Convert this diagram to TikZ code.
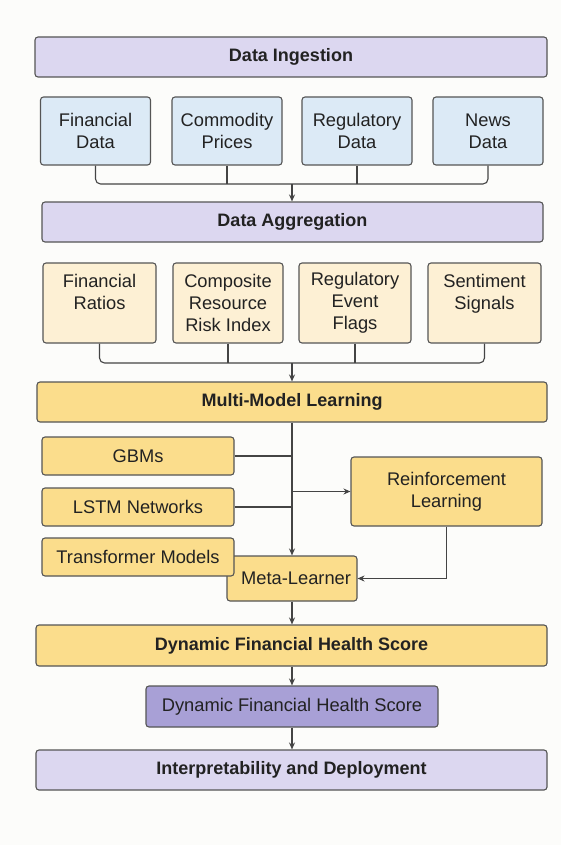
\documentclass[tikz,border=0pt]{standalone}
\usepackage{fontspec}
\setmainfont{Liberation Sans}
\usepackage{tikz}
\usetikzlibrary{arrows.meta}

\definecolor{lav}{HTML}{DCD7F0}
\definecolor{sky}{HTML}{DCEAF6}
\definecolor{cream}{HTML}{FDF0D4}
\definecolor{gold}{HTML}{FBDD8C}
\definecolor{violetbox}{HTML}{A8A0D6}
\definecolor{edge}{HTML}{555555}
\definecolor{ink}{HTML}{222222}
\definecolor{paper}{HTML}{FCFCFA}

\begin{document}
\begin{tikzpicture}
[x=1pt, y=-1pt,
base/.style={draw=edge, line width=1.1pt, rounded corners=3pt, inner sep=0pt, align=center, text=ink, font=\fontsize{18.3}{22}\selectfont},
stage/.style={base, fill=lav, minimum height=40pt, font=\fontsize{18}{22}\selectfont\bfseries},
source/.style={base, fill=sky, minimum width=110pt, minimum height=68pt},
feature/.style={base, fill=cream, minimum width=113pt, minimum height=80pt},
learner/.style={base, fill=gold, minimum width=192pt, minimum height=38pt},
link/.style={edge!80!black, line width=1.1pt},
flow/.style={link, -{Stealth[length=7pt, width=6pt]}}]
\fill[paper] (0,0) rectangle (561,845);
\useasboundingbox (0,0) rectangle (561,845);
\node[stage, minimum width=512pt] (ingest) at (291,57) {Data Ingestion};
\node[source] (fin) at (95.5,131) {Financial\\Data};
\node[source] (comm) at (227,131) {Commodity\\Prices};
\node[source] (reg) at (357,131) {Regulatory\\Data};
\node[source] (news) at (488,131) {News\\Data};
\coordinate (srcjoin) at (292,184);
\draw[link, rounded corners=5pt] (fin.south) |- (srcjoin) -| (news.south);
\draw[link] (comm.south) -- (comm.south |- srcjoin);
\draw[link] (reg.south) -- (reg.south |- srcjoin);
\node[stage, minimum width=501pt] (aggreg) at (292.5,222) {Data Aggregation};
\draw[flow] (srcjoin) -- (srcjoin |- aggreg.north);
\node[feature] (ratios) at (99.5,303) {Financial\\Ratios\\\mbox{}};
\node[feature, minimum width=110pt] (crri) at (228,303) {Composite\\Resource\\Risk Index};
\node[feature, minimum width=112pt] (flags) at (355,303) {Regulatory\\Event\\Flags};
\node[feature] (senti) at (484.5,303) {Sentiment\\Signals\\\mbox{}};
\coordinate (featjoin) at (292,363);
\draw[link, rounded corners=5pt] (ratios.south) |- (featjoin) -| (senti.south);
\draw[link] (crri.south) -- (crri.south |- featjoin);
\draw[link] (flags.south) -- (flags.south |- featjoin);
\node[stage, fill=gold, minimum width=510pt] (mml) at (292,402) {Multi-Model Learning};
\draw[flow] (featjoin) -- (mml.north);
\node[learner] (gbm) at (138,456) {GBMs};
\node[learner] (lstm) at (138,507) {LSTM Networks};
\node[learner, minimum width=191pt, minimum height=69pt] (rl) at (446.5,491.5) {Reinforcement\\Learning};
\node[learner, minimum width=130pt, minimum height=45pt, text width=118pt, align=right] (meta) at (292,578.5) {Meta-Learner};
\node[learner] (trans) at (138,557) {Transformer Models};
\draw[flow] (mml.south) -- (meta.north);
\draw[link] (gbm.east) -- (gbm.east -| mml.south);
\draw[link] (lstm.east) -- (lstm.east -| mml.south);
\draw[flow] (rl.west -| mml.south) -- (rl.west);
\draw[flow] (rl.south) |- (meta.east);
\node[stage, fill=gold, minimum width=511pt, minimum height=41pt] (dfhs) at (291.5,645.5) {Dynamic Financial Health Score};
\draw[flow] (meta.south) -- (meta.south |- dfhs.north);
\node[base, fill=violetbox, minimum width=292pt, minimum height=41pt] (health) at (292,706.5) {Dynamic Financial Health Score};
\draw[flow] (dfhs.south -| health.north) -- (health.north);
\node[stage, minimum width=511pt] (deploy) at (291.5,770) {Interpretability and Deployment};
\draw[flow] (health.south) -- (health.south |- deploy.north);
\end{tikzpicture}
\end{document}
